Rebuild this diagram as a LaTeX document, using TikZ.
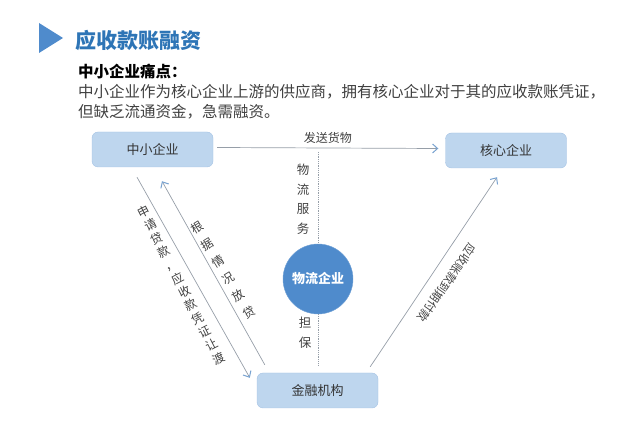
\documentclass[tikz,border=0pt]{standalone}
\usepackage{fontspec}
\setmainfont{Noto Sans CJK SC}
\usetikzlibrary{arrows.meta, positioning, calc}
\definecolor{titleblue}{RGB}{46,117,182}
\definecolor{boxfill}{RGB}{190,214,238}
\definecolor{boxline}{RGB}{165,195,228}
\definecolor{circblue}{RGB}{79,139,204}
\definecolor{linegray}{RGB}{150,158,168}
\definecolor{tipblue}{RGB}{120,162,208}
\definecolor{bodytext}{RGB}{64,64,64}

\tikzset{
  party/.style={draw=boxline, fill=boxfill, rounded corners=6pt, minimum width=121pt,
    minimum height=35pt, text=black!80, font=\fontsize{13}{15}\selectfont},
  flow/.style={draw=linegray, line width=0.7pt,
    -{Straight Barb[length=5pt, width=9pt, color=tipblue, line width=1pt]}},
  lbl/.style={text=black!75, font=\fontsize{12}{14}\selectfont},
  service/.style={draw=linegray, densely dotted, line width=0.8pt}
}

\begin{document}
\begin{tikzpicture}[x=1pt, y=-1pt]
  \useasboundingbox (0,0) rectangle (640,435);

  % Heading
  \fill[circblue] (39,23) -- (63,38) -- (39,53) -- cycle;
  \node[anchor=west, inner sep=0pt, text=titleblue, font=\fontsize{21}{24}\selectfont\bfseries] (title) at (75,40) {应收款账融资};
  \node[anchor=west, inner sep=0pt, font=\fontsize{15.5}{18}\selectfont\bfseries] (pain) at (78,72) {中小企业痛点：};
  \node[anchor=west, inner sep=0pt, align=left, text=bodytext, font=\fontsize{15.5}{20}\selectfont] (desc) at (78,102)
    {中小企业作为核心企业上游的供应商，拥有核心企业对于其的应收款账凭证，\\但缺乏流通资金，急需融资。};

  % Parties
  \node[party] (sme) at (152.5,149.5) {中小企业};
  \node[party] (core) at (506,150.5) {核心企业};
  \node[party] (bank) at (317.5,390.5) {金融机构};
  \node[circle, fill=circblue, draw=circblue!80!white, minimum size=70pt, inner sep=0pt,
    text=white, font=\fontsize{13}{15}\selectfont\bfseries] (logi) at (318,279) {物流企业};

  % Goods
  \draw[flow] ($(sme.east)+(4,-2)$) -- node[lbl, above=1pt] (ship) {发送货物} ($(core.west)+(-7,-2)$);

  % Logistics service and guarantee
  \coordinate (svc) at (318,152);
  \draw[service] (svc) -- (logi.north);
  \draw[service] (logi.south) -- ($(bank.north)+(0.5,-8)$);
  \node[lbl, align=center, font=\fontsize{12.5}{19.5}\selectfont] (svclbl) at (303,199) {物\\流\\服\\务};
  \node[lbl, align=center, font=\fontsize{12.5}{20}\selectfont] (guar) at (305,333) {担\\保};

  % Loan application
  \draw[flow] ($(sme.south)+(-15.5,10)$) -- ($(bank.north west)+(-7,5)$);
  \node[lbl, align=center, rotate=27, font=\fontsize{12}{15}\selectfont] (apply) at (181,285)
    {申\\请\\贷\\款\\，\\应\\收\\款\\凭\\证\\让\\渡};

  % Loan release
  \draw[flow] ($(bank.north west)+(8,-8)$) -- ($(sme.south)+(9.5,14)$);
  \node[lbl, align=center, rotate=31.5, font=\fontsize{12}{20}\selectfont] (lend) at (223,270)
    {根\\据\\情\\况\\放\\贷};

  % Repayment
  \draw[flow] ($(bank.north east)+(-8,-6)$) -- ($(core.south)+(-9,9)$);
  \node[lbl, rotate=235, font=\fontsize{11.5}{14}\selectfont] (repay) at (447,283) {应收账款到期付款};
\end{tikzpicture}
\end{document}
